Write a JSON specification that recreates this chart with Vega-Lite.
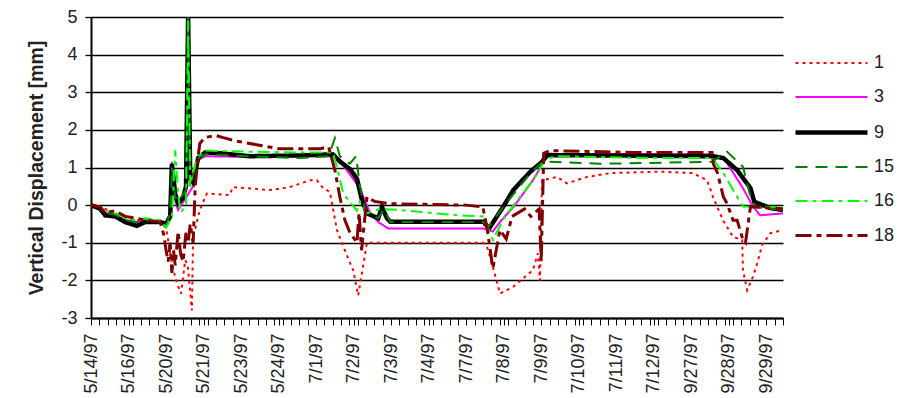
{
  "$schema": "https://vega.github.io/schema/vega-lite/v6.json",
  "width": 692,
  "height": 301,
  "autosize": {"type": "none"},
  "padding": {"left": 91, "top": 17, "right": 126, "bottom": 80},
  "background": "white",
  "config": {
    "font": "Liberation Sans",
    "view": {"stroke": null},
    "legend": {
      "title": null,
      "orient": "none",
      "legendX": 750,
      "legendY": 33,
      "symbolType": "M-5,0H1",
      "symbolSize": 576,
      "labelFontSize": 18,
      "labelColor": "#222",
      "rowPadding": 12,
      "padding": 0
    }
  },
  "data": {
    "values": [
      {"s": "1", "x": 0, "y": 0}, {"s": "1", "x": 2.2, "y": -0.05}, {"s": "1", "x": 3.4, "y": -0.1}, {"s": "1", "x": 5.8, "y": -0.2}, {"s": "1", "x": 8.2, "y": -0.35}, {"s": "1", "x": 11, "y": -0.4}, {"s": "1", "x": 13, "y": -0.4}, {"s": "1", "x": 16.6, "y": -0.45}, {"s": "1", "x": 18, "y": -0.6}, {"s": "1", "x": 19.5, "y": -1.6}, {"s": "1", "x": 20.6, "y": -2.07}, {"s": "1", "x": 21.6, "y": -2.35}, {"s": "1", "x": 22.6, "y": -1.46}, {"s": "1", "x": 23.2, "y": -1.6}, {"s": "1", "x": 24.2, "y": -2.8}, {"s": "1", "x": 24.5, "y": -0.85}, {"s": "1", "x": 26.1, "y": -0.13}, {"s": "1", "x": 27.8, "y": 0.31}, {"s": "1", "x": 33.3, "y": 0.27}, {"s": "1", "x": 34, "y": 0.48}, {"s": "1", "x": 42.9, "y": 0.4}, {"s": "1", "x": 47.7, "y": 0.48}, {"s": "1", "x": 52.5, "y": 0.66}, {"s": "1", "x": 54.2, "y": 0.66}, {"s": "1", "x": 55.7, "y": 0.45}, {"s": "1", "x": 57.3, "y": 0.35}, {"s": "1", "x": 58.1, "y": -0.13}, {"s": "1", "x": 59, "y": -0.66}, {"s": "1", "x": 60.5, "y": -1.1}, {"s": "1", "x": 62.9, "y": -1.73}, {"s": "1", "x": 64.1, "y": -2.4}, {"s": "1", "x": 66.2, "y": -1.0}, {"s": "1", "x": 80, "y": -1.0}, {"s": "1", "x": 94, "y": -1.0}, {"s": "1", "x": 95, "y": -1.1}, {"s": "1", "x": 96.4, "y": -1.64}, {"s": "1", "x": 98.1, "y": -2.35}, {"s": "1", "x": 101.3, "y": -2.17}, {"s": "1", "x": 106, "y": -1.73}, {"s": "1", "x": 107.2, "y": -1.28}, {"s": "1", "x": 107.7, "y": -2.0}, {"s": "1", "x": 108.2, "y": 0.66}, {"s": "1", "x": 111.8, "y": 0.75}, {"s": "1", "x": 114.2, "y": 0.58}, {"s": "1", "x": 119, "y": 0.75}, {"s": "1", "x": 124.5, "y": 0.85}, {"s": "1", "x": 136.5, "y": 0.89}, {"s": "1", "x": 144.4, "y": 0.85}, {"s": "1", "x": 147.8, "y": 0.66}, {"s": "1", "x": 149.2, "y": 0.22}, {"s": "1", "x": 151.6, "y": -0.4}, {"s": "1", "x": 154, "y": -0.84}, {"s": "1", "x": 156.2, "y": -0.93}, {"s": "1", "x": 156.4, "y": -1.73}, {"s": "1", "x": 157.4, "y": -2.26}, {"s": "1", "x": 158.8, "y": -1.9}, {"s": "1", "x": 159.8, "y": -1.55}, {"s": "1", "x": 161, "y": -1.06}, {"s": "1", "x": 162.9, "y": -0.75}, {"s": "1", "x": 166, "y": -0.66},

      {"s": "3", "x": 0, "y": 0}, {"s": "3", "x": 2.2, "y": -0.05}, {"s": "3", "x": 3.4, "y": -0.2}, {"s": "3", "x": 5.8, "y": -0.3}, {"s": "3", "x": 8.2, "y": -0.4}, {"s": "3", "x": 11, "y": -0.45}, {"s": "3", "x": 13, "y": -0.42}, {"s": "3", "x": 16.6, "y": -0.45}, {"s": "3", "x": 18, "y": -0.45}, {"s": "3", "x": 19, "y": -0.2}, {"s": "3", "x": 19.4, "y": 1.15}, {"s": "3", "x": 20.2, "y": 0.1}, {"s": "3", "x": 20.9, "y": -0.13}, {"s": "3", "x": 22.8, "y": 0.2}, {"s": "3", "x": 24.5, "y": 0.5}, {"s": "3", "x": 25.7, "y": 1.2}, {"s": "3", "x": 27.4, "y": 1.3}, {"s": "3", "x": 38, "y": 1.28}, {"s": "3", "x": 50, "y": 1.3}, {"s": "3", "x": 58, "y": 1.3}, {"s": "3", "x": 59, "y": 1.25}, {"s": "3", "x": 60.9, "y": 1.0}, {"s": "3", "x": 64.5, "y": 0.45}, {"s": "3", "x": 66.9, "y": -0.2}, {"s": "3", "x": 68.9, "y": -0.45}, {"s": "3", "x": 71.3, "y": -0.62}, {"s": "3", "x": 94, "y": -0.62}, {"s": "3", "x": 96.4, "y": -0.7}, {"s": "3", "x": 98.1, "y": -0.45}, {"s": "3", "x": 101.7, "y": 0}, {"s": "3", "x": 106, "y": 0.66}, {"s": "3", "x": 108.9, "y": 1.2}, {"s": "3", "x": 110.1, "y": 1.35}, {"s": "3", "x": 149, "y": 1.35}, {"s": "3", "x": 152.1, "y": 1.2}, {"s": "3", "x": 156.4, "y": 0.45}, {"s": "3", "x": 158.6, "y": 0}, {"s": "3", "x": 160.5, "y": -0.27}, {"s": "3", "x": 166, "y": -0.22},

      {"s": "9", "x": 0, "y": 0}, {"s": "9", "x": 2.2, "y": -0.1}, {"s": "9", "x": 3.4, "y": -0.27}, {"s": "9", "x": 5.8, "y": -0.3}, {"s": "9", "x": 8.2, "y": -0.45}, {"s": "9", "x": 11, "y": -0.55}, {"s": "9", "x": 13, "y": -0.45}, {"s": "9", "x": 16.6, "y": -0.45}, {"s": "9", "x": 18, "y": -0.5}, {"s": "9", "x": 19, "y": -0.3}, {"s": "9", "x": 19.4, "y": 1.1}, {"s": "9", "x": 20.2, "y": 0.3}, {"s": "9", "x": 20.9, "y": 0.05}, {"s": "9", "x": 22.1, "y": 0.2}, {"s": "9", "x": 22.8, "y": 0.5}, {"s": "9", "x": 23.3, "y": 5.0}, {"s": "9", "x": 23.8, "y": 0.7}, {"s": "9", "x": 24.5, "y": 0.6}, {"s": "9", "x": 25.7, "y": 1.25}, {"s": "9", "x": 27.4, "y": 1.4}, {"s": "9", "x": 31, "y": 1.38}, {"s": "9", "x": 38, "y": 1.3}, {"s": "9", "x": 50, "y": 1.32}, {"s": "9", "x": 58, "y": 1.35}, {"s": "9", "x": 59.8, "y": 1.15}, {"s": "9", "x": 62.2, "y": 0.95}, {"s": "9", "x": 63.8, "y": 0.7}, {"s": "9", "x": 65, "y": 0.13}, {"s": "9", "x": 66.2, "y": -0.22}, {"s": "9", "x": 68.9, "y": -0.35}, {"s": "9", "x": 69.8, "y": -0.05}, {"s": "9", "x": 71, "y": -0.35}, {"s": "9", "x": 71.8, "y": -0.44}, {"s": "9", "x": 94.1, "y": -0.44}, {"s": "9", "x": 95.5, "y": -0.62}, {"s": "9", "x": 98.9, "y": -0.04}, {"s": "9", "x": 101.3, "y": 0.4}, {"s": "9", "x": 105.4, "y": 0.89}, {"s": "9", "x": 108.2, "y": 1.15}, {"s": "9", "x": 109.4, "y": 1.33}, {"s": "9", "x": 149.3, "y": 1.3}, {"s": "9", "x": 151.7, "y": 1.25}, {"s": "9", "x": 155, "y": 0.93}, {"s": "9", "x": 158.2, "y": 0.45}, {"s": "9", "x": 159.1, "y": 0.09}, {"s": "9", "x": 163, "y": -0.08}, {"s": "9", "x": 166, "y": -0.13},

      {"s": "15", "x": 0, "y": 0}, {"s": "15", "x": 2.2, "y": -0.05}, {"s": "15", "x": 3.4, "y": -0.2}, {"s": "15", "x": 5.8, "y": -0.25}, {"s": "15", "x": 8.2, "y": -0.4}, {"s": "15", "x": 11, "y": -0.45}, {"s": "15", "x": 13, "y": -0.4}, {"s": "15", "x": 16.6, "y": -0.45}, {"s": "15", "x": 18, "y": -0.55}, {"s": "15", "x": 19, "y": -0.2}, {"s": "15", "x": 19.4, "y": 1.0}, {"s": "15", "x": 20.2, "y": 0.2}, {"s": "15", "x": 20.9, "y": 0.1}, {"s": "15", "x": 22.8, "y": 0.4}, {"s": "15", "x": 23.3, "y": 5.0}, {"s": "15", "x": 23.8, "y": 0.5}, {"s": "15", "x": 24.5, "y": 0.8}, {"s": "15", "x": 25.7, "y": 1.25}, {"s": "15", "x": 27.4, "y": 1.35}, {"s": "15", "x": 38, "y": 1.3}, {"s": "15", "x": 50, "y": 1.25}, {"s": "15", "x": 57, "y": 1.3}, {"s": "15", "x": 58.5, "y": 1.78}, {"s": "15", "x": 59.7, "y": 1.3}, {"s": "15", "x": 62.1, "y": 1.1}, {"s": "15", "x": 63.6, "y": 1.3}, {"s": "15", "x": 64.5, "y": 0.5}, {"s": "15", "x": 66, "y": -0.2}, {"s": "15", "x": 68.9, "y": -0.35}, {"s": "15", "x": 70.3, "y": -0.1}, {"s": "15", "x": 71.8, "y": -0.45}, {"s": "15", "x": 94, "y": -0.45}, {"s": "15", "x": 95.5, "y": -0.55}, {"s": "15", "x": 98.9, "y": -0.05}, {"s": "15", "x": 105.4, "y": 0.85}, {"s": "15", "x": 108.9, "y": 1.2}, {"s": "15", "x": 110.1, "y": 1.15}, {"s": "15", "x": 122.1, "y": 1.1}, {"s": "15", "x": 149, "y": 1.15}, {"s": "15", "x": 152.6, "y": 1.42}, {"s": "15", "x": 156.4, "y": 1.02}, {"s": "15", "x": 158.2, "y": 0.22}, {"s": "15", "x": 159.3, "y": -0.05}, {"s": "15", "x": 166, "y": -0.13},

      {"s": "16", "x": 0, "y": 0}, {"s": "16", "x": 2.2, "y": -0.05}, {"s": "16", "x": 3.4, "y": -0.15}, {"s": "16", "x": 5.8, "y": -0.2}, {"s": "16", "x": 8.2, "y": -0.35}, {"s": "16", "x": 11, "y": -0.4}, {"s": "16", "x": 13, "y": -0.35}, {"s": "16", "x": 16.6, "y": -0.4}, {"s": "16", "x": 18, "y": -0.6}, {"s": "16", "x": 19.4, "y": -0.3}, {"s": "16", "x": 20.2, "y": 1.46}, {"s": "16", "x": 20.9, "y": 0.3}, {"s": "16", "x": 21.5, "y": -0.2}, {"s": "16", "x": 22.8, "y": 0.0}, {"s": "16", "x": 23.3, "y": 4.9}, {"s": "16", "x": 23.8, "y": 0.5}, {"s": "16", "x": 24.5, "y": 0.9}, {"s": "16", "x": 25.7, "y": 1.3}, {"s": "16", "x": 27.4, "y": 1.45}, {"s": "16", "x": 38, "y": 1.42}, {"s": "16", "x": 50, "y": 1.4}, {"s": "16", "x": 58, "y": 1.4}, {"s": "16", "x": 59, "y": 1.02}, {"s": "16", "x": 60.5, "y": 0.31}, {"s": "16", "x": 63.8, "y": -0.15}, {"s": "16", "x": 64.5, "y": 0.1}, {"s": "16", "x": 66.2, "y": -0.22}, {"s": "16", "x": 69.3, "y": -0.1}, {"s": "16", "x": 74.1, "y": -0.13}, {"s": "16", "x": 87.8, "y": -0.27}, {"s": "16", "x": 94.1, "y": -0.3}, {"s": "16", "x": 96.4, "y": -0.93}, {"s": "16", "x": 99.3, "y": -0.3}, {"s": "16", "x": 106, "y": 0.66}, {"s": "16", "x": 108.9, "y": 1.2}, {"s": "16", "x": 111.3, "y": 1.3}, {"s": "16", "x": 134.1, "y": 1.25}, {"s": "16", "x": 149, "y": 1.25}, {"s": "16", "x": 151.7, "y": 0.85}, {"s": "16", "x": 155, "y": 0.22}, {"s": "16", "x": 156.4, "y": -0.04}, {"s": "16", "x": 166, "y": -0.05},

      {"s": "18", "x": 0, "y": 0}, {"s": "18", "x": 2.2, "y": -0.05}, {"s": "18", "x": 3.4, "y": -0.2}, {"s": "18", "x": 5.8, "y": -0.15}, {"s": "18", "x": 8.2, "y": -0.3}, {"s": "18", "x": 11, "y": -0.35}, {"s": "18", "x": 13, "y": -0.4}, {"s": "18", "x": 16.6, "y": -0.45}, {"s": "18", "x": 17.5, "y": -0.8}, {"s": "18", "x": 18, "y": -1.2}, {"s": "18", "x": 18.5, "y": -1.5}, {"s": "18", "x": 19, "y": -1.0}, {"s": "18", "x": 19.4, "y": -1.8}, {"s": "18", "x": 19.8, "y": -1.2}, {"s": "18", "x": 20.2, "y": -1.6}, {"s": "18", "x": 20.9, "y": -0.7}, {"s": "18", "x": 21.5, "y": -1.3}, {"s": "18", "x": 22.1, "y": -1.5}, {"s": "18", "x": 22.8, "y": -0.7}, {"s": "18", "x": 23.3, "y": -1.0}, {"s": "18", "x": 23.8, "y": -0.5}, {"s": "18", "x": 24.5, "y": -1.0}, {"s": "18", "x": 25, "y": 0.5}, {"s": "18", "x": 25.7, "y": 1.3}, {"s": "18", "x": 26.1, "y": 1.64}, {"s": "18", "x": 27.4, "y": 1.8}, {"s": "18", "x": 30, "y": 1.85}, {"s": "18", "x": 31.5, "y": 1.8}, {"s": "18", "x": 35, "y": 1.7}, {"s": "18", "x": 40, "y": 1.6}, {"s": "18", "x": 45, "y": 1.5}, {"s": "18", "x": 50, "y": 1.5}, {"s": "18", "x": 55, "y": 1.5}, {"s": "18", "x": 57, "y": 1.55}, {"s": "18", "x": 58.5, "y": 0.93}, {"s": "18", "x": 59.7, "y": 0.22}, {"s": "18", "x": 60.9, "y": -0.4}, {"s": "18", "x": 62, "y": -0.7}, {"s": "18", "x": 63.8, "y": -1.0}, {"s": "18", "x": 64.3, "y": -0.2}, {"s": "18", "x": 64.9, "y": -1.2}, {"s": "18", "x": 66.2, "y": 0.22}, {"s": "18", "x": 68, "y": 0.1}, {"s": "18", "x": 71.5, "y": 0.04}, {"s": "18", "x": 80, "y": 0.02}, {"s": "18", "x": 90, "y": 0.0}, {"s": "18", "x": 94, "y": -0.05}, {"s": "18", "x": 95, "y": -0.6}, {"s": "18", "x": 96.4, "y": -1.68}, {"s": "18", "x": 98.1, "y": -0.66}, {"s": "18", "x": 99.6, "y": -0.9}, {"s": "18", "x": 101, "y": -0.3}, {"s": "18", "x": 104, "y": -0.1}, {"s": "18", "x": 105.5, "y": -0.3}, {"s": "18", "x": 107.5, "y": -0.1}, {"s": "18", "x": 108, "y": -1.5}, {"s": "18", "x": 108.6, "y": 1.38}, {"s": "18", "x": 110, "y": 1.45}, {"s": "18", "x": 130, "y": 1.4}, {"s": "18", "x": 149, "y": 1.4}, {"s": "18", "x": 149.3, "y": 1.1}, {"s": "18", "x": 150.3, "y": 0.85}, {"s": "18", "x": 151.7, "y": 0.22}, {"s": "18", "x": 152.6, "y": 0.04}, {"s": "18", "x": 154, "y": -0.4}, {"s": "18", "x": 155, "y": -0.4}, {"s": "18", "x": 156.4, "y": -0.93}, {"s": "18", "x": 157, "y": -1.0}, {"s": "18", "x": 158.2, "y": -0.04}, {"s": "18", "x": 166, "y": -0.1}
    ]
  },
  "mark": {"type": "line", "clip": true, "strokeCap": "butt"},
  "encoding": {
    "x": {
      "field": "x",
      "type": "quantitative",
      "scale": {"domain": [0, 166], "nice": false, "zero": false},
      "axis": {
        "title": null,
        "grid": false,
        "values": [0,2,4,6,8,9,10,12,14,16,18,20,22,24,26,27,28,30,32,34,36,38,40,42,44,45,46,48,50,52,54,56,58,60,62,63,64,66,68,70,72,74,76,78,80,81,82,84,86,88,90,92,94,96,98,99,100,102,104,106,108,110,112,114,116,117,118,120,122,124,126,128,130,132,134,135,136,138,140,142,144,146,148,150,152,153,154,156,158,160,162,164,166],
        "labelExpr": "datum.value % 9 == 0 ? ['5/14/97','5/16/97','5/20/97','5/21/97','5/23/97','5/24/97','7/1/97','7/2/97','7/3/97','7/4/97','7/7/97','7/8/97','7/9/97','7/10/97','7/11/97','7/12/97','9/27/97','9/28/97','9/29/97'][datum.value / 9] : ''",
        "labelAngle": 270,
        "labelAlign": "right",
        "labelBaseline": "middle",
        "labelFontSize": 18,
        "labelColor": "#222",
        "labelPadding": 8,
        "labelOverlap": false,
        "labelFlush": false,
        "labelBound": false,
        "domainColor": "black",
        "domainWidth": 2,
        "tickColor": "black",
        "tickWidth": 1,
        "tickSize": 7
      }
    },
    "y": {
      "field": "y",
      "type": "quantitative",
      "scale": {"domain": [-3, 5], "nice": false, "zero": false},
      "axis": {
        "title": "Vertical Displacement [mm]",
        "titleFontSize": 19.5,
        "titleFontWeight": "bold",
        "titleColor": "#222",
        "titlePadding": 14,
        "values": [-3,-2,-1,0,1,2,3,4,5],
        "labelExpr": "'' + datum.value",
        "labelFontSize": 18,
        "labelColor": "#222",
        "labelPadding": 8,
        "grid": true,
        "gridColor": "black",
        "gridWidth": 1.3,
        "gridOpacity": 1,
        "domainColor": "black",
        "domainWidth": 2,
        "tickColor": "black",
        "tickWidth": 1.3,
        "tickSize": 6
      }
    },
    "color": {
      "field": "s",
      "type": "nominal",
      "sort": ["1", "3", "9", "15", "16", "18"],
      "scale": {"domain": ["1", "3", "9", "15", "16", "18"], "range": ["#FF0000", "#FF00FF", "#000000", "#008000", "#00FF00", "#800000"]}
    },
    "strokeDash": {
      "field": "s",
      "type": "nominal",
      "sort": ["1", "3", "9", "15", "16", "18"],
      "scale": {"domain": ["1", "3", "9", "15", "16", "18"], "range": [[3, 4], [1, 0], [1, 0], [12, 8], [12, 5, 4, 5], [16, 5, 5, 5]]}
    },
    "strokeWidth": {
      "field": "s",
      "type": "nominal",
      "sort": ["1", "3", "9", "15", "16", "18"],
      "scale": {"type": "ordinal", "domain": ["1", "3", "9", "15", "16", "18"], "range": [2, 2, 4.5, 2, 2, 3]}
    }
  }
}
